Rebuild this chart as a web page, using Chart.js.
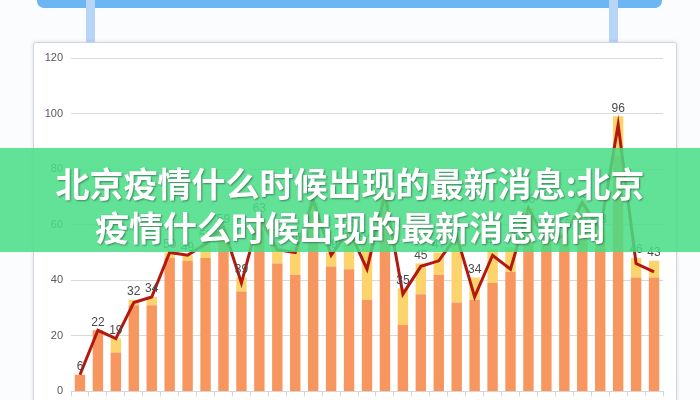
<!DOCTYPE html>
<html>
<head>
<meta charset="utf-8">
<script src="https://cdn.jsdelivr.net/npm/chart.js@4/dist/chart.umd.min.js"></script>
<style>
    html, body { margin: 0; padding: 0; }
    body { width: 700px; height: 400px; overflow: hidden; position: relative; background: #fbfcfe; }
    .topbar { position: absolute; left: 37px; top: -7px; width: 625px; height: 15px; border-radius: 7px; background: #6cb6f3; }
    .post { position: absolute; top: 0; width: 9px; height: 44px; background: #b7d5f6; }
    .card { position: absolute; left: 33px; top: 42px; width: 642px; height: 380px; background: #fff;
            border: 1px solid #cdd6e2; border-radius: 3px; box-shadow: 0 0 4px rgba(0,0,0,0.12); }
    .card canvas { position: absolute; left: 0; top: 0; }
    .banner { position: absolute; left: 0; top: 148px; width: 700px; height: 104px; background: rgba(72, 221, 133, 0.86);
              color: #fff; font-family: "Noto Sans CJK SC"; font-weight: bold; font-size: 34px; line-height: 44px;
              text-align: center; padding-top: 13px; box-sizing: border-box; text-shadow: 1px 1px 2px rgba(0,0,0,0.4); }
</style>
</head>
<body>
<div class="topbar"></div>
<div class="post" style="left:86px"></div>
<div class="post" style="left:609px"></div>
<div class="card">
    <canvas id="chart" width="642" height="363"></canvas>
</div>
<div class="banner">北京疫情什么时候出现的最新消息:北京<br>疫情什么时候出现的最新消息新闻</div>

<script>
// values (the middle band is covered, so those are estimates)
const days = ['1','2','3','4','5','6','7','8','9','10','11','12','13','14','15','16','17',
              '18','19','20','21','22','23','24','25','26','27','28','29','30','31','32','33'];
const orange = [6, 22, 14, 31, 31, 48, 47, 48, 56, 36, 58, 46, 42, 64, 45, 44, 33, 65, 24, 35, 42, 32, 33, 39, 43, 62, 53, 55, 64, 55, 85, 41, 41];
const yellow = [0, 0, 5, 2, 3, 2, 2, 5, 3, 5, 4, 7, 10, 4, 5, 12, 20, 5, 13, 11, 8, 22, 8, 12, 9, 4, 2, 2, 4, 4, 14, 7, 6];
const total  = [6, 22, 19, 32, 34, 50, 49, 53, 59, 39, 63, 51, 50, 69, 49, 58, 44, 71, 35, 45, 47, 56, 34, 49, 44, 66, 54, 56, 68, 58, 96, 46, 43];
const yTicks = [0, 20, 40, 60, 80, 100, 120];

// labels of the line, put just above the bar or the line, whichever is higher
const valueLabels = {
    id: 'valueLabels',
    afterDatasetsDraw(chart) {
        const ctx = chart.ctx;
        const y = chart.scales.y;
        const meta = chart.getDatasetMeta(2);
        ctx.save();
        ctx.font = '12px "Liberation Sans"';
        ctx.fillStyle = '#4a4a4a';
        ctx.textAlign = 'center';
        ctx.textBaseline = 'bottom';
        meta.data.forEach((pt, i) => {
            const top = Math.min(pt.y, y.getPixelForValue(orange[i] + yellow[i]));
            ctx.fillText(total[i], pt.x, top - 2);
        });
        ctx.restore();
    }
};

new Chart(document.getElementById('chart'), {
    type: 'bar',
    data: {
        labels: days,
        datasets: [
            { label: 'a', data: orange, backgroundColor: '#f8965f', stack: 'bars', order: 2,
              barPercentage: 0.58, categoryPercentage: 1 },
            { label: 'b', data: yellow, backgroundColor: '#fdd36b', stack: 'bars', order: 2,
              barPercentage: 0.58, categoryPercentage: 1 },
            { type: 'line', label: 'c', data: total, borderColor: '#b3170f', borderWidth: 3,
              pointRadius: 0, tension: 0, fill: false, stack: 'line', order: 0 }
        ]
    },
    options: {
        responsive: false,
        animation: false,
        layout: { padding: { top: 15, right: 13, bottom: 4, left: 0 } },
        plugins: { legend: { display: false }, tooltip: { enabled: false } },
        scales: {
            x: {
                stacked: true,
                ticks: { display: false },
                grid: { offset: true, drawOnChartArea: false, drawTicks: true, tickLength: 5, color: '#d6d6d6' },
                border: { color: '#d6d6d6' }
            },
            y: {
                stacked: true,
                min: 0,
                max: 120,
                afterBuildTicks: axis => { axis.ticks = yTicks.map(v => ({ value: v })); },
                afterFit: axis => { axis.width = 37; },
                ticks: { color: '#595959', padding: 8, font: { family: 'Liberation Sans', size: 11 } },
                grid: { color: '#d9d9d9', drawTicks: false },
                border: { display: false }
            }
        }
    },
    plugins: [valueLabels]
});
</script>
</body>
</html>
